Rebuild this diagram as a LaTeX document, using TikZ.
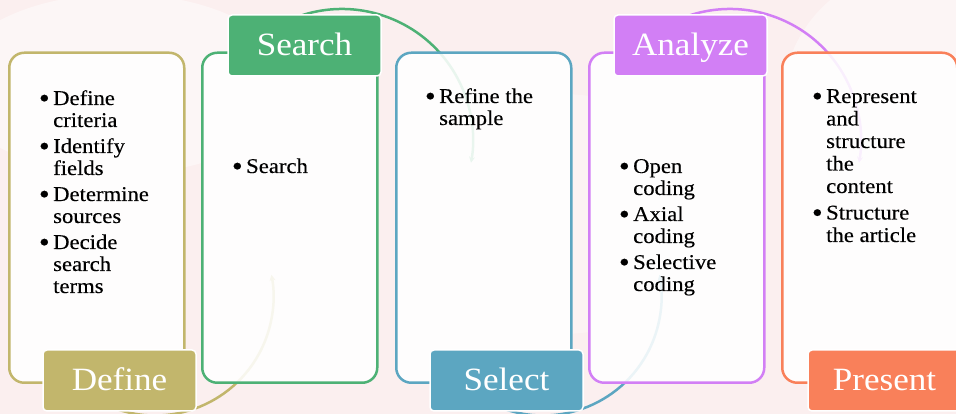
\documentclass[tikz,border=0pt]{standalone}
\usepackage{fontspec}
\setmainfont[FakeStretch=1.08]{Liberation Serif}
\newfontfamily\bodyfont[FakeStretch=1.08,FakeBold=0.25]{Liberation Serif}
\usetikzlibrary{arrows.meta}

\definecolor{bgpink}{RGB}{251,239,239}
\definecolor{defcol}{RGB}{194,182,108}
\definecolor{seacol}{RGB}{77,177,117}
\definecolor{selcol}{RGB}{92,166,193}
\definecolor{anacol}{RGB}{210,127,245}
\definecolor{precol}{RGB}{249,128,90}

\newcommand\bul{\makebox[0pt][r]{\raisebox{-0.12em}{\scalebox{1.35}{\textbullet}}\hspace{3.5pt}}}

\tikzset{
  panel/.style={draw=#1, line width=2.5pt, rounded corners=15pt,
    fill=white, fill opacity=0.88, draw opacity=1,
    minimum width=175pt, minimum height=330pt, inner sep=0pt, anchor=south west},
  lab/.style={fill=#1, draw=white, line width=1.5pt, rounded corners=4pt,
    minimum width=153pt, minimum height=61pt, inner sep=0pt,
    text=white, font=\fontsize{32.5}{32.5}\selectfont, text height=22pt, text depth=2pt},
  body/.style={anchor=base west, inner sep=0pt, text=black,
    font=\bodyfont\fontsize{21}{22}\selectfont},
  flow/.style={draw=#1, line width=2.5pt, -{Stealth[length=6pt,width=6pt]}}
}

\begin{document}
\begin{tikzpicture}[x=1pt,y=1pt]
  \useasboundingbox (0,0) rectangle (956,414);
  % soft paper background
  \fill[bgpink] (0,0) rectangle (956,414);
  \fill[white, opacity=0.45] (120,330) ellipse (170 and 90);
  \fill[white, opacity=0.4] (900,300) ellipse (120 and 140);
  \fill[white, opacity=0.3] (560,200) ellipse (160 and 120);

  % arc centres
  \coordinate (cdef) at (155,117);
  \coordinate (csea) at (342,274);
  \coordinate (csel) at (543,117);
  \coordinate (cana) at (730,274);

  % curved flow arrows (behind the panels)
  \draw[flow=defcol] (cdef) ++(-110:118.5pt) arc[start angle=-110, end angle=10.8, radius=118.5pt];
  \draw[flow=seacol] (csea) ++(115:131pt) arc[start angle=115, end angle=-10, radius=131pt];
  \draw[flow=selcol] (csel) ++(-110:118.5pt) arc[start angle=-110, end angle=10.8, radius=118.5pt];
  \draw[flow=anacol] (cana) ++(115:131pt) arc[start angle=115, end angle=-10, radius=131pt];

  % panels
  \node[panel=defcol] (Bdef) at (8,30) {};
  \node[panel=seacol] (Bsea) at (201,30) {};
  \node[panel=selcol] (Bsel) at (395,30) {};
  \node[panel=anacol] (Bana) at (588,30) {};
  \node[panel=precol] (Bpre) at (781,30) {};

  % panel contents
  \node[body] (d1) at (53,309) {\bul Define};
  \node[body] (d2) at (53,287) {criteria};
  \node[body] (d3) at (53,261) {\bul Identify};
  \node[body] (d4) at (53,239) {fields};
  \node[body] (d5) at (53,213) {\bul Determine};
  \node[body] (d6) at (53,191) {sources};
  \node[body] (d7) at (53,165) {\bul Decide};
  \node[body] (d8) at (53,143) {search};
  \node[body] (d9) at (53,121) {terms};

  \node[body] (s1) at (246,241) {\bul Search};

  \node[body] (r1) at (439,311) {\bul Refine the};
  \node[body] (r2) at (439,289) {sample};

  \node[body] (a1) at (633,241) {\bul Open};
  \node[body] (a2) at (633,219) {coding};
  \node[body] (a3) at (633,193) {\bul Axial};
  \node[body] (a4) at (633,171) {coding};
  \node[body] (a5) at (633,145) {\bul Selective};
  \node[body] (a6) at (633,123) {coding};

  \node[body] (p1) at (826,311) {\bul Represent};
  \node[body] (p2) at (826,288.5) {and};
  \node[body] (p3) at (826,266) {structure};
  \node[body] (p4) at (826,243.5) {the};
  \node[body] (p5) at (826,221) {content};
  \node[body] (p6) at (826,194.5) {\bul Structure};
  \node[body] (p7) at (826,172) {the article};

  % step labels
  \node[lab=defcol] (Ldef) at (119.5,33.5) {Define};
  \node[lab=seacol] (Lsea) at (304.5,368.5) {Search};
  \node[lab=selcol] (Lsel) at (506.5,33.5) {Select};
  \node[lab=anacol] (Lana) at (690.5,368.5) {Analyze};
  \node[lab=precol] (Lpre) at (884.5,33.5) {Present};
\end{tikzpicture}
\end{document}
